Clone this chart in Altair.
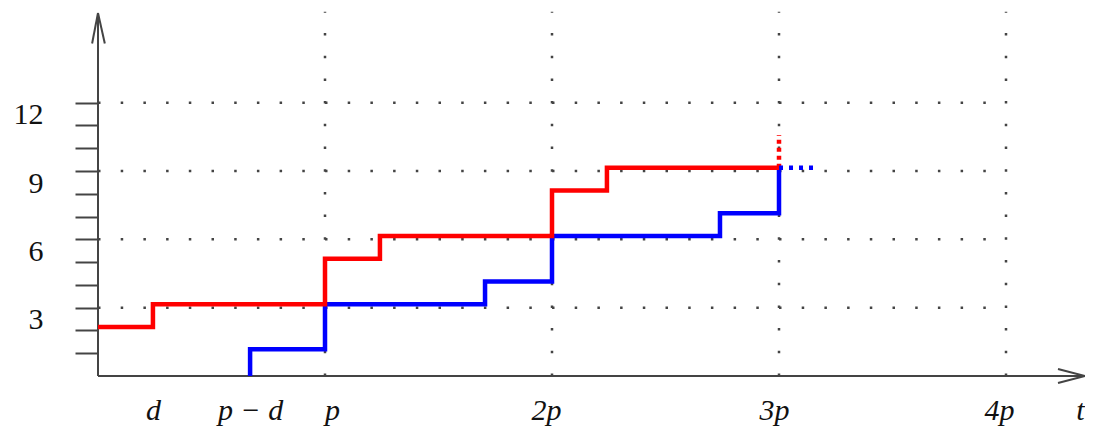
import altair as alt
import pandas as pd

# ---- values (t in units of p) ----
red_t = [0.0, 0.242, 1.0, 1.242, 2.0, 2.242, 3.0]
red_v = [2.15, 3.15, 5.15, 6.15, 8.15, 9.15, 9.15]
blue_t = [0.67, 0.67, 1.0, 1.705, 2.0, 2.74, 3.0]
blue_v = [0.0, 1.18, 3.15, 4.15, 6.15, 7.15, 9.15]

red_ext_t = [3.0, 3.0]
red_ext_v = [9.15, 10.58]
blue_ext_t = [3.0, 3.15]
blue_ext_v = [9.15, 9.15]

grid_h = [3, 6, 9, 12]
grid_v = [1, 2, 3, 4]
x_label_pos = [0.242, 0.67, 1.031, 1.974, 2.978, 3.969, 4.326]
x_label_text = ["d", "p − d", "p", "2p", "3p", "4p", "t"]
y_tick_vals = list(range(1, 13))
y_label_vals = [3, 6, 9, 12]

X_MAX = 4.348
Y_MAX = 15.94
GRID_TOP = 16.0

# axis lines with open arrowheads
seg_x = [0.0, 0.0, 0.0, 0.0, X_MAX, X_MAX]
seg_y = [0.0, Y_MAX, Y_MAX, 0.0, 0.0, 0.0]
seg_x2 = [0.0, -0.026, 0.030, X_MAX, 4.229, 4.229]
seg_y2 = [Y_MAX, 14.6, 14.6, 0.0, 0.31, -0.31]

# ---- tables ----
red_df = pd.DataFrame({"t": red_t, "v": red_v, "i": range(len(red_t))})
blue_df = pd.DataFrame({"t": blue_t, "v": blue_v, "i": range(len(blue_t))})
red_ext = pd.DataFrame({"t": [red_ext_t[0]], "v": [red_ext_v[0]], "t2": [red_ext_t[1]], "v2": [red_ext_v[1]]})
blue_ext = pd.DataFrame({"t": [blue_ext_t[0]], "v": [blue_ext_v[0]], "t2": [blue_ext_t[1]], "v2": [blue_ext_v[1]]})

grid_rows = []
for h in grid_h:
    grid_rows.append({"t": 0.0, "t2": 4.0, "v": h, "v2": h})
for g in grid_v:
    grid_rows.append({"t": g, "t2": g, "v": 0.0, "v2": GRID_TOP})
grid_df = pd.DataFrame(grid_rows)

axis_df = pd.DataFrame({"t": seg_x, "v": seg_y, "t2": seg_x2, "v2": seg_y2})

# ---- scales and axes ----
xs = alt.Scale(domain=[0, X_MAX], nice=False, zero=False)
ys = alt.Scale(domain=[0, Y_MAX], nice=False, zero=False)

x_expr = " : ".join(
    f"datum.value == {v} ? '{s}'" for v, s in zip(x_label_pos, x_label_text)
) + " : ''"
y_expr = "indexof([" + ",".join(str(v) for v in y_label_vals) + "], datum.value) >= 0 ? datum.value : ''"

xaxis = alt.Axis(
    values=x_label_pos, labelExpr=x_expr, title=None, domain=False, ticks=False,
    tickSize=0, grid=False, labelFont="Liberation Serif", labelFontStyle="italic",
    labelFontSize=30, labelColor="#111", labelPadding=43, labelBaseline="alphabetic",
    labelAlign="center", labelOverlap=False, labelFlush=False, labelBound=False,
)
yaxis = alt.Axis(
    values=y_tick_vals, labelExpr=y_expr, title=None, domain=False, ticks=True,
    tickSize=23, tickWidth=2, tickColor="#444", grid=False,
    labelFont="Liberation Serif", labelFontSize=30, labelColor="#111",
    labelPadding=32, labelBaseline="top", labelOffset=-3, labelAlign="right",
    labelOverlap=False, labelFlush=False, labelBound=False,
)


def X(f):
    return alt.X(f, type="quantitative", scale=xs, axis=xaxis)


def Y(f):
    return alt.Y(f, type="quantitative", scale=ys, axis=yaxis)


grid = alt.Chart(grid_df).mark_rule(
    color="#444", strokeWidth=2.5, strokeDash=[2.5, 20.2], strokeCap="butt"
).encode(x=X("t"), x2="t2", y=Y("v"), y2="v2")

axes = alt.Chart(axis_df).mark_rule(color="#444", strokeWidth=2).encode(
    x=X("t"), x2="t2", y=Y("v"), y2="v2"
)

red = alt.Chart(red_df).mark_line(
    color="#ff0000", strokeWidth=4.5, interpolate="step-after", strokeCap="butt"
).encode(x=X("t"), y=Y("v"), order="i:Q")

blue = alt.Chart(blue_df).mark_line(
    color="#0000ff", strokeWidth=4.5, interpolate="step-after", strokeCap="butt"
).encode(x=X("t"), y=Y("v"), order="i:Q")

red_dot = alt.Chart(red_ext).mark_rule(
    color="#ff0000", strokeWidth=4.5, strokeDash=[4, 4]
).encode(x=X("t"), x2="t2", y=Y("v"), y2="v2")

blue_dot = alt.Chart(blue_ext).mark_rule(
    color="#0000ff", strokeWidth=4.5, strokeDash=[4, 6]
).encode(x=X("t"), x2="t2", y=Y("v"), y2="v2")

chart = alt.layer(grid, axes, blue, red, red_dot, blue_dot).properties(
    width=987,
    height=363,
    padding={"left": 90, "top": 5, "right": 0, "bottom": 52},
    autosize=alt.AutoSizeParams(type="none"),
    background="white",
).configure_view(stroke=None)

chart.save("out.html", embed_options={"renderer": "svg", "actions": False})
